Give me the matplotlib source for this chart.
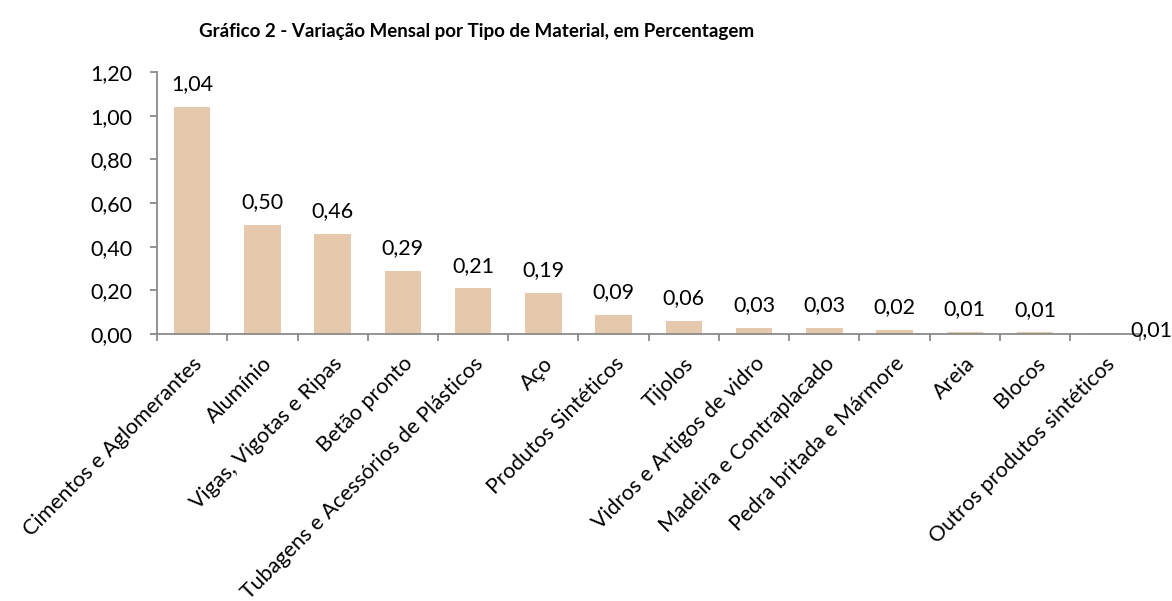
import matplotlib
matplotlib.use("Agg")
import matplotlib.pyplot as plt

# Chart data
categorias = [
    "Cimentos e Aglomerantes", "Alumínio", "Vigas, Vigotas e Ripas",
    "Betão pronto", "Tubagens e Acessórios de Plásticos", "Aço",
    "Produtos Sintéticos", "Tijolos", "Vidros e Artigos de vidro",
    "Madeira e Contraplacado", "Pedra britada e Mármore", "Areia",
    "Blocos", "Outros produtos sintéticos",
]
variacao = [1.04, 0.50, 0.46, 0.29, 0.21, 0.19, 0.09, 0.06, 0.03, 0.03,
            0.02, 0.012, 0.008, 0.006]
yticks = [0.0, 0.2, 0.4, 0.6, 0.8, 1.0, 1.2]

plt.rcParams['font.family'] = ['Lato', 'DejaVu Sans']
BAR = '#E6C9AC'
GREY = '#8A8A8A'
FS = 15.5

fig = plt.figure(figsize=(11.72, 6.01), dpi=100)
ax = fig.add_axes([0.134, 0.444, 0.839, 0.436])

x = list(range(len(categorias)))
ax.bar(x, variacao, width=0.52, color=BAR, zorder=2)

# data labels
for i, v in enumerate(variacao):
    txt = f"{v:.2f}".replace('.', ',')
    if i == len(variacao) - 1:
        ax.annotate(txt, (i, 0), xytext=(33, 3), textcoords='offset points',
                    ha='center', va='center', fontsize=FS)
    else:
        ax.annotate(txt, (i, v), xytext=(0, 9), textcoords='offset points',
                    ha='center', va='bottom', fontsize=FS)

ax.set_xlim(-0.5, len(categorias) - 0.5)
ax.set_ylim(0, 1.2)
ax.set_yticks(yticks)
ax.set_yticklabels([f"{t:.2f}".replace('.', ',') for t in yticks], fontsize=FS)

# ticks at category boundaries, labels at centres
ax.set_xticks([i - 0.5 for i in range(len(categorias) + 1)])
ax.set_xticklabels([])
ax.set_xticks(x, minor=True)
ax.set_xticklabels(categorias, minor=True, rotation=45, ha='right',
                   va='top', rotation_mode='anchor', fontsize=15.5)
ax.tick_params(axis='x', which='minor', length=0, pad=14)
ax.tick_params(axis='x', which='major', length=5, color=GREY, width=1.3)
ax.tick_params(axis='y', length=5, color=GREY, width=1.3, pad=13)

for s in ['top', 'right']:
    ax.spines[s].set_visible(False)
for s in ['left', 'bottom']:
    ax.spines[s].set_color(GREY)
    ax.spines[s].set_linewidth(1.3)

fig.suptitle("Gráfico 2 - Variação Mensal por Tipo de Material, em Percentagem",
             x=0.407, y=0.962, fontsize=13.5, fontweight='bold')

fig.savefig("out.png", dpi=100)
